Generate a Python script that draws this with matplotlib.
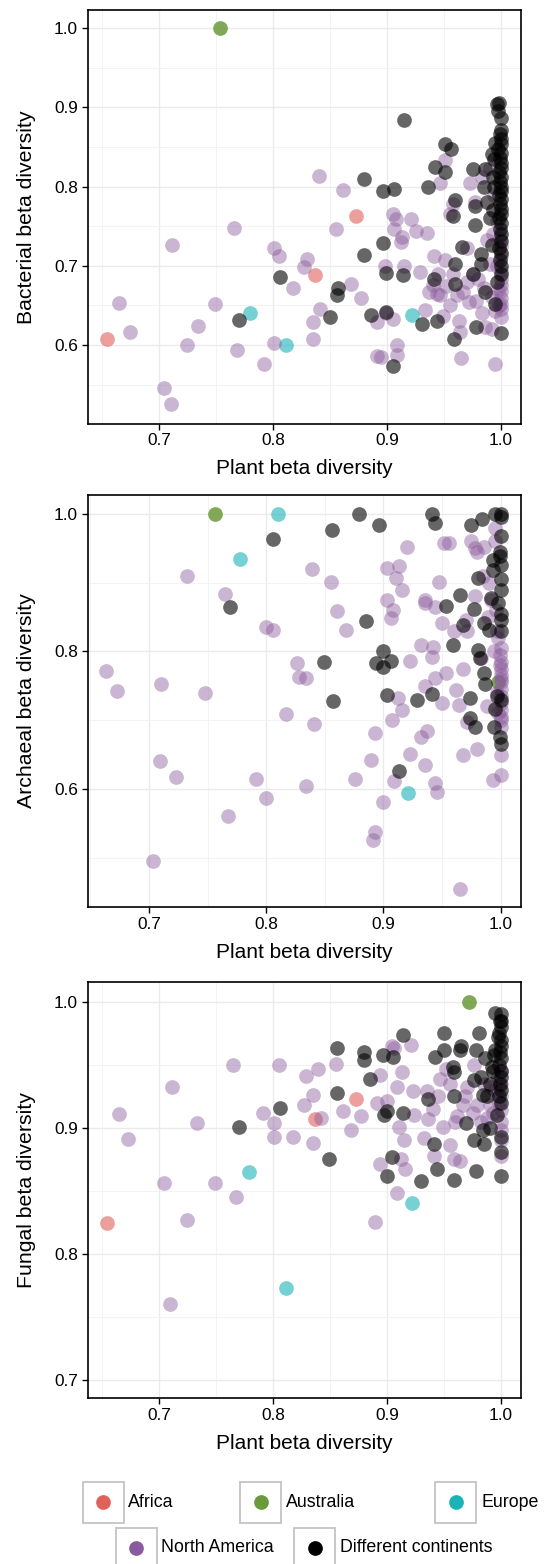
import matplotlib
matplotlib.use("Agg")
import matplotlib.pyplot as plt
from matplotlib.patches import Rectangle
from matplotlib.ticker import FormatStrFormatter

plt.rcParams['font.family'] = ['Liberation Sans', 'DejaVu Sans']

groups = ["Africa", "Australia", "Europe", "North America", "Different continents"]
group_colors = ["#E0605A", "#6A9A3A", "#1AB3B6", "#8A5B9C", "#000000"]
group_alpha = [0.6, 0.85, 0.6, 0.45, 0.6]

# ---- bacteria vs plant ----
bac_africa_x = [0.654, 0.873, 0.837]
bac_africa_y = [0.608, 0.763, 0.688]
bac_australia_x = [0.753]
bac_australia_y = [1.0]
bac_europe_x = [0.7795, 0.811, 0.922]
bac_europe_y = [0.641, 0.600, 0.638]
bac_na_x = [0.665, 0.674, 0.711, 0.704, 0.710, 0.7245, 0.734, 0.749, 0.7655, 0.768,
            0.792, 0.801, 0.805, 0.801, 0.817, 0.827, 0.830, 0.840, 0.841, 0.835,
            0.835, 0.855, 0.861, 0.868, 0.877, 0.891, 0.895, 0.891, 0.905, 0.899,
            0.905, 0.908, 0.906, 0.912, 0.913, 0.915, 0.909, 0.909, 0.921, 0.925,
            0.935, 0.933, 0.898, 0.941, 0.951, 0.946, 0.951, 0.929, 0.937, 0.946,
            0.955, 0.949, 0.963, 0.964, 0.965, 0.995, 0.955, 0.958, 0.967, 0.970,
            0.972, 0.973, 0.977, 0.983, 0.986, 0.992, 0.975, 0.980, 0.985, 0.990,
            0.992, 0.988, 0.978, 0.995, 0.970, 0.983, 0.990, 0.994, 0.996, 0.993,
            1.0, 1.0, 1.0, 1.0, 1.0, 1.0, 1.0, 1.0, 1.0, 1.0,
            0.999, 0.998, 0.997, 0.996, 0.945, 0.940, 0.952, 0.958, 0.961, 0.944]
bac_na_y = [0.653, 0.616, 0.726, 0.546, 0.526, 0.600, 0.624, 0.652, 0.748, 0.594,
            0.576, 0.723, 0.713, 0.602, 0.672, 0.698, 0.709, 0.814, 0.646, 0.629,
            0.608, 0.747, 0.796, 0.677, 0.660, 0.586, 0.585, 0.629, 0.633, 0.641,
            0.766, 0.759, 0.747, 0.730, 0.736, 0.700, 0.600, 0.588, 0.759, 0.744,
            0.741, 0.644, 0.700, 0.713, 0.708, 0.805, 0.833, 0.692, 0.667, 0.663,
            0.650, 0.637, 0.631, 0.616, 0.584, 0.576, 0.766, 0.778, 0.667, 0.679,
            0.654, 0.805, 0.780, 0.641, 0.623, 0.620, 0.690, 0.683, 0.672, 0.702,
            0.661, 0.732, 0.656, 0.643, 0.722, 0.812, 0.823, 0.790, 0.757, 0.740,
            0.636, 0.645, 0.652, 0.660, 0.668, 0.676, 0.684, 0.693, 0.712, 0.725,
            0.735, 0.650, 0.670, 0.700, 0.690, 0.676, 0.675, 0.690, 0.663, 0.664]
bac_diff_x = [0.770, 0.806, 0.857, 0.856, 0.850, 0.880, 0.880, 0.896, 0.906, 0.896,
              0.899, 0.914, 0.915, 0.886, 0.899, 0.905, 0.931, 0.944, 0.936, 0.942,
              0.951, 0.951, 0.956, 0.960, 0.958, 0.966, 0.960, 0.960, 0.941, 0.959,
              0.975, 0.977, 0.977, 0.982, 0.982, 0.975, 0.986, 0.978, 0.986, 0.992,
              1.0, 0.995, 0.992, 0.996, 0.998, 1.0,
              1.0, 0.999, 1.0, 0.998, 1.0, 1.0, 0.999, 1.0, 0.998, 1.0,
              1.0, 0.999, 1.0, 0.998, 1.0, 1.0, 0.999, 1.0, 0.998, 1.0,
              1.0, 0.999, 1.0, 0.997, 1.0, 1.0, 0.999, 1.0, 0.995, 0.994,
              0.993, 0.996, 1.0, 0.997, 0.994, 0.990, 0.985, 0.988, 0.993]
bac_diff_y = [0.632, 0.686, 0.672, 0.663, 0.636, 0.810, 0.714, 0.794, 0.797, 0.729,
              0.691, 0.689, 0.884, 0.638, 0.642, 0.573, 0.627, 0.630, 0.800, 0.825,
              0.819, 0.854, 0.847, 0.783, 0.763, 0.724, 0.702, 0.677, 0.684, 0.608,
              0.822, 0.776, 0.751, 0.715, 0.702, 0.690, 0.667, 0.623, 0.822, 0.841,
              0.615, 0.652, 0.726, 0.904, 0.906, 0.887,
              0.700, 0.708, 0.716, 0.722, 0.731, 0.740, 0.747, 0.754, 0.760, 0.766,
              0.772, 0.778, 0.784, 0.790, 0.795, 0.800, 0.806, 0.812, 0.818, 0.824,
              0.830, 0.836, 0.842, 0.848, 0.854, 0.860, 0.866, 0.872, 0.855, 0.800,
              0.770, 0.680, 0.690, 0.895, 0.835, 0.760, 0.800, 0.780, 0.812]

# ---- archaea vs plant ----
arc_africa_x = []
arc_africa_y = []
arc_australia_x = [0.9975, 0.756]
arc_australia_y = [0.756, 1.0]
arc_europe_x = [0.810, 0.778, 0.921]
arc_europe_y = [1.0, 0.935, 0.5935]
arc_na_x = [0.6635, 0.673, 0.710, 0.748, 0.732, 0.765, 0.709, 0.723, 0.703, 0.767,
            0.791, 0.800, 0.800, 0.806, 0.817, 0.826, 0.828, 0.834, 0.841, 0.834,
            0.839, 0.855, 0.860, 0.868, 0.876, 0.889, 0.893, 0.893, 0.891, 0.900,
            0.903, 0.913, 0.911, 0.916, 0.903, 0.908, 0.906, 0.920, 0.923, 0.907,
            0.909, 0.916, 0.912, 0.923, 0.932, 0.937, 0.935, 0.932, 0.942, 0.941,
            0.935, 0.935, 0.944, 0.947, 0.944, 0.935, 0.950, 0.953, 0.950, 0.952,
            0.956, 0.944, 0.946, 0.965, 0.962, 0.964, 0.968, 0.968, 0.971, 0.980,
            0.971, 0.978, 0.986, 0.995, 0.993, 1.0, 1.0, 1.0, 0.989, 0.983,
            1.0, 1.0, 1.0, 1.0, 1.0, 1.0, 1.0, 1.0, 1.0, 1.0,
            0.999, 0.998, 1.0, 0.999, 0.997, 1.0, 0.998, 0.996, 0.992, 0.990,
            0.985, 0.980, 0.975, 0.995, 0.997, 0.994, 0.988, 0.978, 0.970, 0.960]
arc_na_y = [0.771, 0.743, 0.752, 0.739, 0.909, 0.883, 0.640, 0.618, 0.495, 0.561,
            0.615, 0.587, 0.836, 0.831, 0.709, 0.783, 0.763, 0.761, 0.694, 0.604,
            0.920, 0.901, 0.859, 0.831, 0.614, 0.642, 0.681, 0.538, 0.526, 0.581,
            0.921, 0.924, 0.906, 0.889, 0.875, 0.860, 0.848, 0.952, 0.786, 0.700,
            0.611, 0.715, 0.732, 0.651, 0.676, 0.685, 0.635, 0.809, 0.807, 0.792,
            0.875, 0.870, 0.865, 0.901, 0.761, 0.749, 0.841, 0.768, 0.725, 0.958,
            0.957, 0.608, 0.596, 0.455, 0.744, 0.722, 0.775, 0.649, 0.698, 0.658,
            0.829, 0.950, 0.952, 0.979, 0.613, 0.620, 0.649, 0.700, 0.850, 0.790,
            0.690, 0.705, 0.715, 0.725, 0.735, 0.745, 0.755, 0.765, 0.775, 0.785,
            0.795, 0.710, 0.760, 0.780, 0.740, 0.805, 0.820, 0.860, 0.875, 0.900,
            0.910, 0.945, 0.960, 0.960, 0.830, 0.800, 0.720, 0.880, 0.845, 0.830]
arc_diff_x = [0.879, 0.896, 0.856, 0.806, 0.769, 0.885, 0.849, 0.857, 0.900, 0.894,
              0.900, 0.906, 0.903, 0.913, 0.929, 0.941, 0.941, 0.944, 0.953, 0.959,
              0.965, 0.968, 0.974, 0.974, 0.978, 0.975, 0.984, 0.981, 0.977, 0.986,
              0.981, 0.982, 0.986, 0.987, 0.993, 0.993, 0.992, 0.990, 0.994, 0.995,
              1.0, 1.0, 0.995, 1.0, 0.999, 1.0, 1.0,
              1.0, 1.0, 0.999, 1.0, 1.0, 0.998, 1.0, 1.0, 0.999, 0.997]
arc_diff_y = [1.0, 0.983, 0.976, 0.963, 0.865, 0.844, 0.784, 0.728, 0.801, 0.783,
              0.778, 0.786, 0.736, 0.626, 0.729, 0.738, 1.0, 0.987, 0.866, 0.810,
              0.882, 0.838, 0.732, 0.703, 0.690, 0.984, 0.993, 0.906, 0.862, 0.841,
              0.802, 0.790, 0.768, 0.753, 0.933, 0.918, 0.877, 0.831, 0.690, 0.717,
              0.666, 0.729, 1.0, 1.0, 0.938, 0.889, 0.855,
              0.995, 0.968, 0.945, 0.925, 0.905, 0.870, 0.845, 0.830, 0.675, 0.735]

# ---- fungi vs plant ----
fun_africa_x = [0.654, 0.873, 0.837]
fun_africa_y = [0.8245, 0.923, 0.907]
fun_australia_x = [0.972]
fun_australia_y = [0.9995]
fun_europe_x = [0.779, 0.811, 0.922]
fun_europe_y = [0.865, 0.773, 0.8406]
fun_na_x = [0.665, 0.673, 0.711, 0.704, 0.7095, 0.724, 0.733, 0.749, 0.765, 0.767,
            0.791, 0.801, 0.801, 0.805, 0.817, 0.827, 0.829, 0.835, 0.835, 0.839,
            0.842, 0.855, 0.861, 0.868, 0.877, 0.889, 0.894, 0.891, 0.894, 0.900,
            0.904, 0.906, 0.909, 0.910, 0.915, 0.916, 0.913, 0.909, 0.912, 0.921,
            0.923, 0.924, 0.932, 0.935, 0.936, 0.941, 0.946, 0.949, 0.952, 0.955,
            0.959, 0.964, 0.961, 0.967, 0.970, 0.976, 0.979, 0.988, 0.991, 1.0,
            1.0, 1.0, 1.0, 1.0, 1.0, 1.0, 1.0, 0.998, 0.997, 0.995,
            0.993, 0.990, 0.985, 0.982, 0.975, 0.968, 0.960, 0.955, 0.945, 0.940]
fun_na_y = [0.911, 0.891, 0.932, 0.856, 0.7605, 0.827, 0.904, 0.856, 0.950, 0.845,
            0.912, 0.904, 0.893, 0.950, 0.893, 0.918, 0.941, 0.926, 0.888, 0.947,
            0.908, 0.951, 0.913, 0.898, 0.909, 0.825, 0.871, 0.920, 0.942, 0.921,
            0.965, 0.963, 0.932, 0.901, 0.890, 0.867, 0.944, 0.848, 0.875, 0.966,
            0.929, 0.910, 0.892, 0.929, 0.907, 0.878, 0.939, 0.901, 0.947, 0.886,
            0.875, 0.874, 0.909, 0.918, 0.932, 0.950, 0.918, 0.908, 0.932, 0.914,
            0.890, 0.878, 0.925, 0.935, 0.945, 0.905, 0.898, 0.920, 0.940, 0.930,
            0.912, 0.918, 0.935, 0.905, 0.912, 0.925, 0.905, 0.935, 0.925, 0.915]
fun_diff_x = [0.770, 0.806, 0.849, 0.856, 0.856, 0.880, 0.880, 0.885, 0.896, 0.905,
              0.914, 0.897, 0.900, 0.914, 0.904, 0.900, 0.930, 0.942, 0.950, 0.950,
              0.958, 0.959, 0.964, 0.965, 0.936, 0.941, 0.944, 0.959, 0.959, 0.969,
              0.978, 0.981, 0.978, 0.976, 0.984, 0.976, 0.984, 0.985, 0.995, 0.995,
              1.0, 1.0, 1.0,
              1.0, 0.999, 1.0, 0.998, 1.0, 1.0, 0.999, 1.0, 0.998, 1.0,
              1.0, 0.999, 1.0, 0.998, 1.0, 1.0, 0.997, 0.994, 0.992, 0.990,
              0.988, 0.993, 0.996, 0.990, 0.986, 0.982]
fun_diff_y = [0.901, 0.916, 0.875, 0.963, 0.928, 0.960, 0.954, 0.939, 0.958, 0.956,
              0.974, 0.910, 0.913, 0.912, 0.877, 0.862, 0.858, 0.956, 0.975, 0.962,
              0.948, 0.944, 0.962, 0.965, 0.923, 0.887, 0.867, 0.925, 0.859, 0.904,
              0.866, 0.975, 0.962, 0.938, 0.926, 0.890, 0.898, 0.887, 0.991, 0.962,
              0.862, 0.881, 0.893,
              0.990, 0.985, 0.980, 0.975, 0.970, 0.965, 0.960, 0.955, 0.950, 0.945,
              0.940, 0.935, 0.930, 0.925, 0.920, 0.985, 0.972, 0.958, 0.948, 0.935,
              0.925, 0.945, 0.910, 0.900, 0.955, 0.940]

panels = [
    ("Bacterial beta diversity",
     [(bac_africa_x, bac_africa_y), (bac_australia_x, bac_australia_y), (bac_europe_x, bac_europe_y),
      (bac_na_x, bac_na_y), (bac_diff_x, bac_diff_y)],
     (10.5, 423.5), (0.6372, 1.0175), (0.501, 1.0223),
     [0.6, 0.7, 0.8, 0.9, 1.0], [0.55, 0.65, 0.75, 0.85, 0.95]),
    ("Archaeal beta diversity",
     [(arc_africa_x, arc_africa_y), (arc_australia_x, arc_australia_y), (arc_europe_x, arc_europe_y),
      (arc_na_x, arc_na_y), (arc_diff_x, arc_diff_y)],
     (494.8, 907.0), (0.6477, 1.0173), (0.4285, 1.0276),
     [0.6, 0.8, 1.0], [0.5, 0.7, 0.9]),
    ("Fungal beta diversity",
     [(fun_africa_x, fun_africa_y), (fun_australia_x, fun_australia_y), (fun_europe_x, fun_europe_y),
      (fun_na_x, fun_na_y), (fun_diff_x, fun_diff_y)],
     (981.8, 1398.3), (0.6372, 1.0175), (0.6855, 1.0158),
     [0.7, 0.8, 0.9, 1.0], [0.75, 0.85, 0.95]),
]

W, H = 546, 1564
fig = plt.figure(figsize=(W / 100, H / 100), dpi=100)
left_px, right_px = 87.7, 521.0

# draw order: Australia first so the hidden one stays behind
draw_order = [1, 0, 2, 3, 4]

for ylabel, series, (top, bottom), xlim, ylim, yticks, yminor in panels:
    h_px = bottom - top
    ax = fig.add_axes([left_px / W, (H - bottom) / H, (right_px - left_px) / W, h_px / H])
    for i in draw_order:
        xs, ys = series[i]
        if xs:
            ax.scatter(xs, ys, s=112, color=group_colors[i], alpha=group_alpha[i],
                       linewidths=0, zorder=3)
    ax.set_xlim(*xlim)
    ax.set_ylim(*ylim)
    ax.set_xticks([0.7, 0.8, 0.9, 1.0])
    ax.set_xticks([0.65, 0.75, 0.85, 0.95], minor=True)
    ax.set_yticks(yticks)
    ax.set_yticks(yminor, minor=True)
    ax.xaxis.set_major_formatter(FormatStrFormatter('%.1f'))
    ax.yaxis.set_major_formatter(FormatStrFormatter('%.1f'))
    ax.grid(which='major', color='#EBEBEB', linewidth=1.0)
    ax.grid(which='minor', color='#F3F3F3', linewidth=0.7)
    ax.set_axisbelow(True)
    ax.tick_params(which='major', length=4, width=1.0, pad=3, labelsize=12.4, colors='black')
    ax.tick_params(which='minor', length=0)
    for sp in ax.spines.values():
        sp.set_linewidth(1.2)
        sp.set_color('black')
    ax.set_xlabel("Plant beta diversity", fontsize=15)
    ax.xaxis.set_label_coords(0.5, -36 / h_px)
    ax.set_ylabel(ylabel, fontsize=15.3)
    ax.yaxis.set_label_coords(-0.119, 0.5)

# legend drawn in pixel space at the bottom
lax = fig.add_axes([0, 0, 1, 100 / H])
lax.set_xlim(0, W)
lax.set_ylim(H, H - 100)
lax.axis('off')
legend_rows = [
    (0, 82.7, 1502.3, 128.3),
    (1, 240.2, 1502.3, 286.0),
    (2, 435.0, 1502.3, 481.4),
    (3, 115.5, 1548.0, 161.0),
    (4, 294.0, 1548.0, 340.0),
]
for gi, bx, cy, lx in legend_rows:
    lax.add_patch(Rectangle((bx, cy - 20.5), 41, 41, facecolor='white',
                            edgecolor='#C4C4C4', linewidth=1.3))
    lax.scatter([bx + 20.6], [cy], s=112, color=group_colors[gi], linewidths=0, zorder=3)
    lax.text(lx, cy, groups[gi], va='center', ha='left', fontsize=12.8)

fig.savefig("out.png", dpi=100)
